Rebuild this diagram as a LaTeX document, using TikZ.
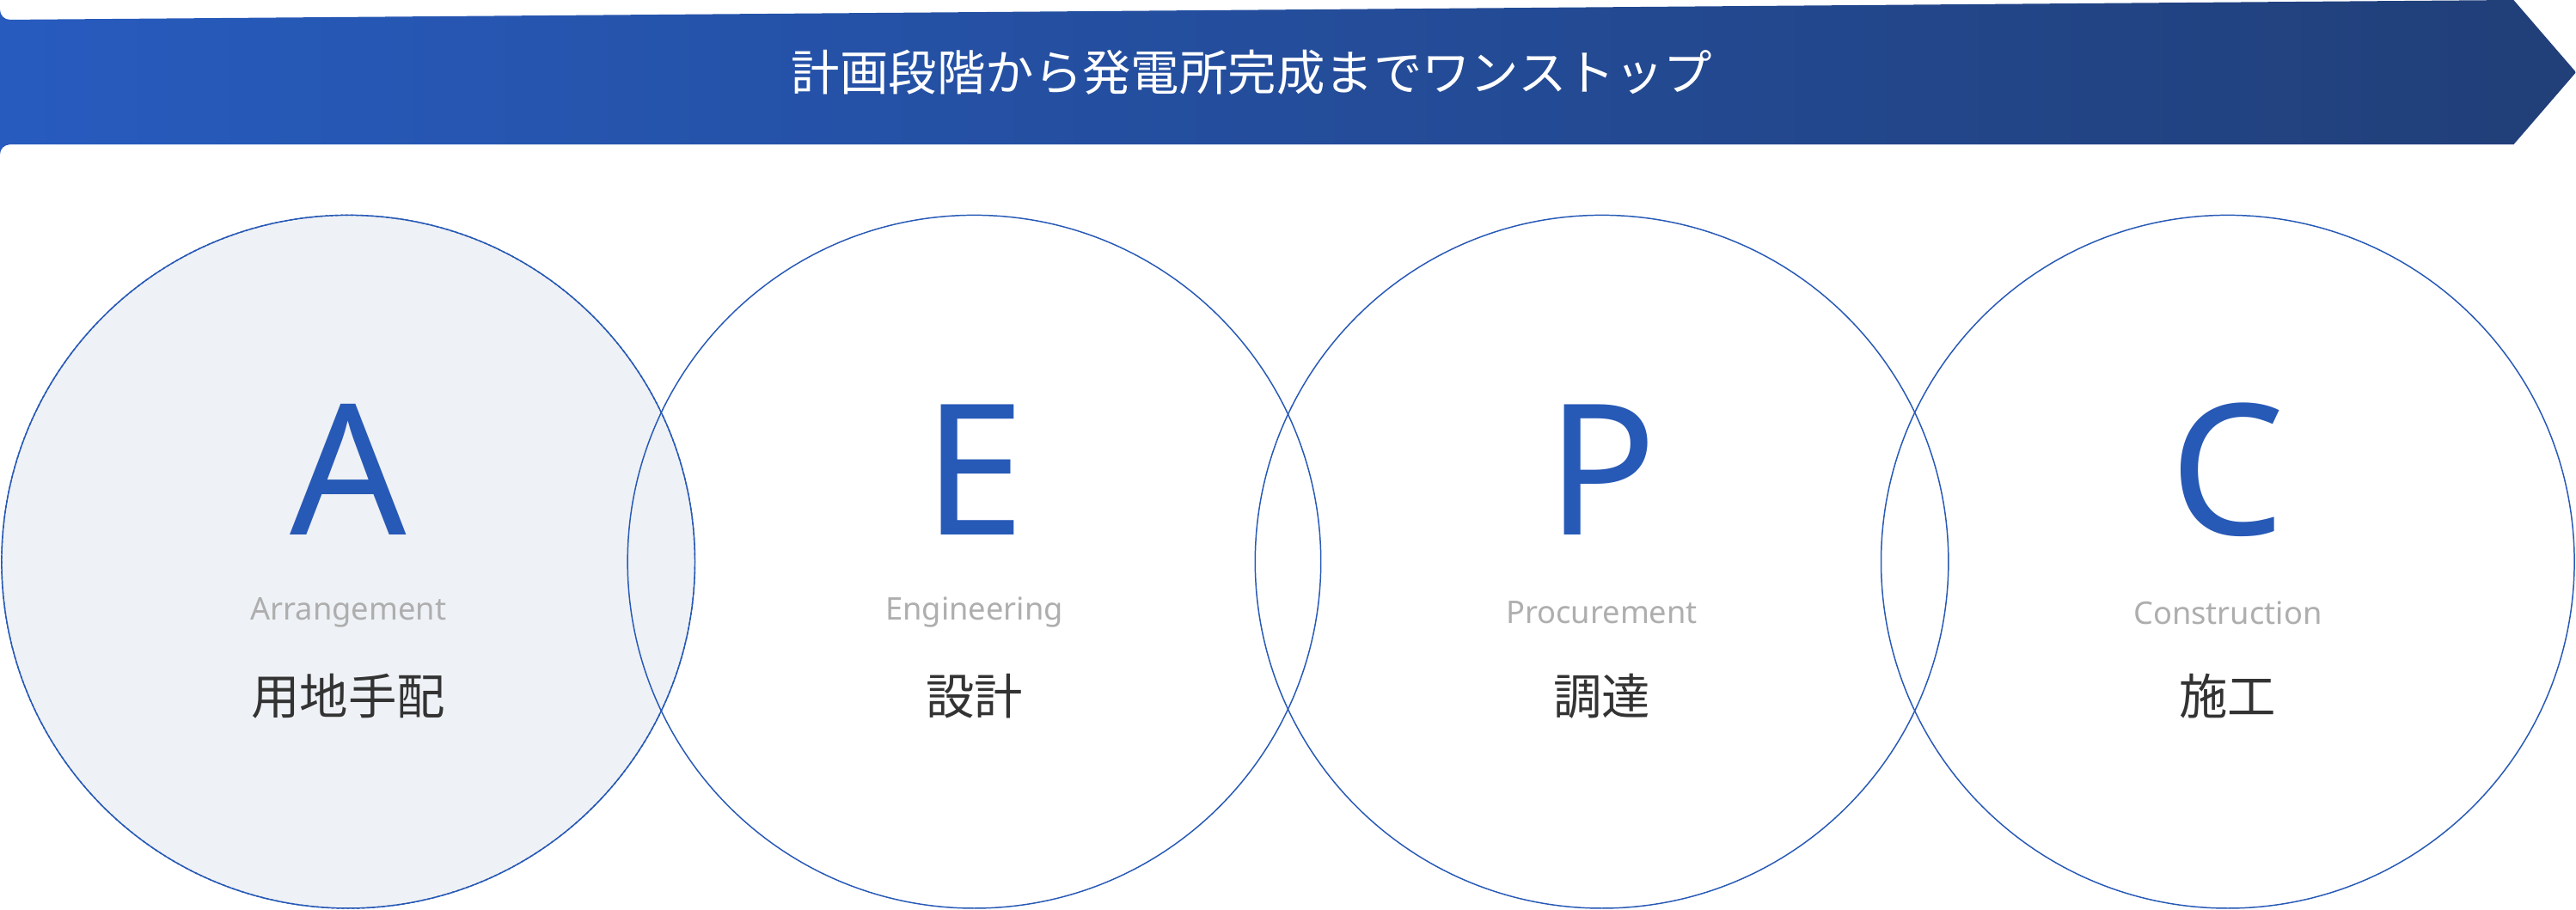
\documentclass[tikz,border=0pt]{standalone}
\usepackage{fontspec}
\setmainfont{Noto Sans}
\newfontfamily\jp{Noto Sans CJK JP}
\definecolor{bl}{HTML}{2759B6}
\definecolor{bll}{HTML}{275BBE}
\definecolor{bdk}{HTML}{213F78}
\definecolor{gy}{HTML}{AEAEAE}
\definecolor{tx}{HTML}{333333}
\definecolor{fillc}{HTML}{EEF1F5}
\begin{document}
\begin{tikzpicture}[x=0.05cm,y=-0.05cm,
  ring/.style={draw=bl,line width=1.1pt},
  letter/.style={text=bl,font=\fontsize{158}{160}\selectfont},
  eng/.style={text=gy,font=\fontsize{27}{30}\selectfont},
  jap/.style={text=tx,font=\jp\fontsize{42}{46}\selectfont}]
\useasboundingbox (0,0) rectangle (1568,554);
\shade[left color=bll,right color=bdk] (0,6) arc[start angle=180,end angle=90,radius=6] -- (1530,0) -- (1568,44) -- (1530,88) -- (6,88) arc[start angle=270,end angle=180,radius=6] -- cycle;
\node[text=white,font=\jp\fontsize{42}{46}\selectfont] (title) at (762,44) {計画段階から発電所完成までワンストップ};
\fill[fillc] (212,342) circle[radius=211];
\draw[bl,line width=1.1pt,dash pattern=on 2.2pt off 2.2pt] (212,342) circle[radius=211];
\foreach \n/\x/\L/\E/\J in {a/212/A/Arrangement/用地手配,e/593/E/Engineering/設計,p/975/P/Procurement/調達,c/1356/C/Construction/施工}{
  \ifx\n a\else\draw[ring] (\x,342) circle[radius=211];\fi
  \node[letter] (L\n) at (\x,286) {\L};
  \node[eng] (E\n) at (\x,373) {\E};
  \node[jap] (J\n) at (\x,424) {\J};
}
\end{tikzpicture}
\end{document}
